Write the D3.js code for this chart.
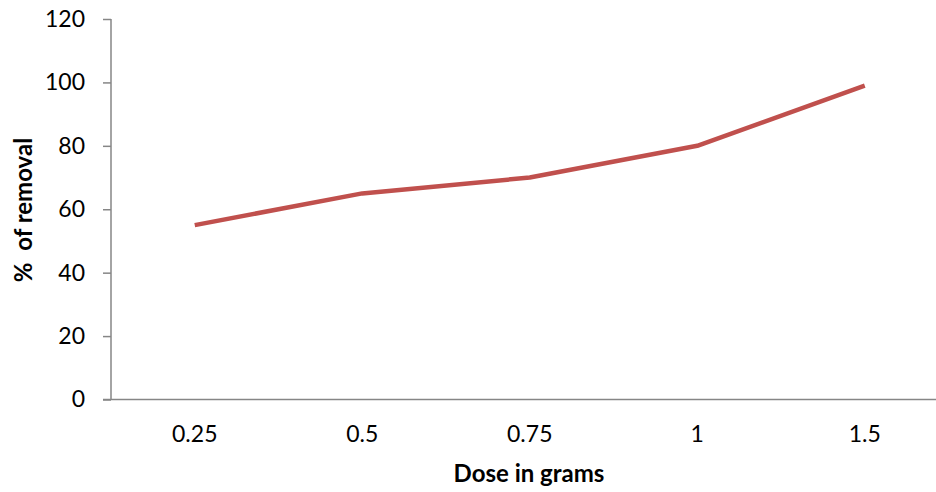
<!DOCTYPE html>
<html><head><meta charset="utf-8">
<script src="https://cdn.jsdelivr.net/npm/d3@7"></script>
<style>body{margin:0;background:#fff;overflow:hidden}text{font-family:Lato,"Open Sans",sans-serif}</style>
</head><body><svg id="c" width="936" height="492"></svg>
<script>
const categories = ["0.25","0.5","0.75","1","1.5"];
const removal = [55, 65, 70, 80, 99];
const yTicks = [0,20,40,60,80,100,120];

const svg = d3.select("#c");
const x = d3.scaleBand().domain(categories).range([111, 948.5]);
const y = d3.scaleLinear().domain([0,120]).range([399.5, 19]);

const gy = svg.append("g").attr("transform","translate(111,0)")
  .call(d3.axisLeft(y).tickValues(yTicks).tickSize(8).tickPadding(18));
gy.selectAll("line,path").attr("stroke","#868686").attr("stroke-width",1.5);
gy.select(".domain").attr("d","M0,19V399.5");
gy.selectAll("text").attr("font-size",23).attr("fill","#000").attr("font-family","Lato");

const gx = svg.append("g").attr("transform","translate(0,399.5)")
  .call(d3.axisBottom(x).tickSize(0).tickPadding(26));
gx.select(".domain").attr("stroke","#868686").attr("stroke-width",1.5).attr("d","M103,0H948.5");
gx.selectAll("text").attr("font-size",23).attr("fill","#000").attr("font-family","Lato");

const line = d3.line().x((d,i)=>x(categories[i])+x.bandwidth()/2).y(d=>y(d));
svg.append("path").datum(removal).attr("d",line).attr("fill","none")
  .attr("stroke","#C0504D").attr("stroke-width",4.5).attr("stroke-linejoin","round");

svg.append("text").attr("x",529).attr("y",482).attr("text-anchor","middle")
  .attr("font-size",24).attr("font-weight","bold").text("Dose in grams");
svg.append("text").attr("transform","translate(32,210) rotate(-90)").attr("text-anchor","middle")
  .attr("font-size",24).attr("font-weight","bold").attr("xml:space","preserve").text("%  of removal");
</script></body></html>
